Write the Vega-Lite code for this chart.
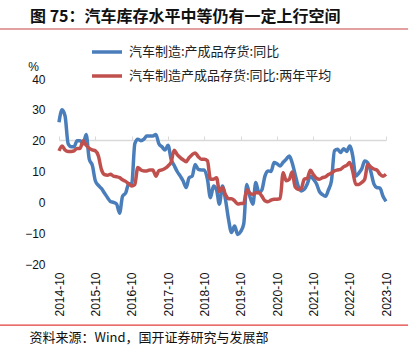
{
  "$schema": "https://vega.github.io/schema/vega-lite/v6.json",
  "autosize": {"type": "none"},
  "width": 327,
  "height": 185,
  "padding": {"left": 59, "top": 79, "right": 31, "bottom": 92},
  "background": "white",
  "config": {"view": {"stroke": null}, "font": "Liberation Sans, Noto Sans CJK SC"},
  "title": {
    "text": "图 75：汽车库存水平中等仍有一定上行空间",
    "anchor": "start", "frame": "group", "dx": -29, "offset": 3,
    "font": "Noto Sans CJK SC", "fontSize": 16, "fontWeight": "bold", "color": "#111"
  },
  "resolve": {"axis": {"x": "independent", "y": "independent"}},
  "layer": [
    {
      "data": {"values": [
        {"d":"2014-10-01","yoy":26,"avg2y":16.7},{"d":"2014-11-01","yoy":30,"avg2y":18.3},{"d":"2014-12-01","yoy":28,"avg2y":17},
        {"d":"2015-01-01","yoy":19,"avg2y":16.5},{"d":"2015-02-01","yoy":18,"avg2y":16.5},{"d":"2015-03-01","yoy":18,"avg2y":16.7},
        {"d":"2015-04-01","yoy":20,"avg2y":17.5},{"d":"2015-05-01","yoy":20,"avg2y":17.5},{"d":"2015-06-01","yoy":19,"avg2y":20},
        {"d":"2015-07-01","yoy":22,"avg2y":18.5},{"d":"2015-08-01","yoy":14,"avg2y":17.5},{"d":"2015-09-01","yoy":12,"avg2y":17},
        {"d":"2015-10-01","yoy":7,"avg2y":16.7},{"d":"2015-11-01","yoy":5.5,"avg2y":15},{"d":"2015-12-01","yoy":4.5,"avg2y":10.7},
        {"d":"2016-01-01","yoy":3,"avg2y":9},{"d":"2016-02-01","yoy":1.5,"avg2y":8.8},{"d":"2016-03-01","yoy":0.3,"avg2y":9.1},
        {"d":"2016-04-01","yoy":0,"avg2y":8.5},{"d":"2016-05-01","yoy":-0.5,"avg2y":8.3},{"d":"2016-06-01","yoy":-3.5,"avg2y":8},
        {"d":"2016-07-01","yoy":2,"avg2y":7.3},{"d":"2016-08-01","yoy":3,"avg2y":6.8},{"d":"2016-09-01","yoy":6,"avg2y":6},
        {"d":"2016-10-01","yoy":6,"avg2y":5.3},{"d":"2016-11-01","yoy":19,"avg2y":5.8},{"d":"2016-12-01","yoy":20.5,"avg2y":11.3},
        {"d":"2017-01-01","yoy":20,"avg2y":10.5},{"d":"2017-02-01","yoy":20.5,"avg2y":10.2},{"d":"2017-03-01","yoy":21.5,"avg2y":10.2},
        {"d":"2017-04-01","yoy":21.5,"avg2y":10.5},{"d":"2017-05-01","yoy":21.5,"avg2y":10.5},{"d":"2017-06-01","yoy":22,"avg2y":8.5},
        {"d":"2017-07-01","yoy":19,"avg2y":10.3},{"d":"2017-08-01","yoy":18,"avg2y":10.5},{"d":"2017-09-01","yoy":17,"avg2y":11},
        {"d":"2017-10-01","yoy":18.5,"avg2y":11.8},{"d":"2017-11-01","yoy":14,"avg2y":13},{"d":"2017-12-01","yoy":12,"avg2y":16.9},
        {"d":"2018-01-01","yoy":10,"avg2y":15.5},{"d":"2018-02-01","yoy":8.5,"avg2y":14.5},{"d":"2018-03-01","yoy":7,"avg2y":13.8},
        {"d":"2018-04-01","yoy":4.8,"avg2y":13.2},{"d":"2018-05-01","yoy":8,"avg2y":14.5},{"d":"2018-06-01","yoy":8.5,"avg2y":15.5},
        {"d":"2018-07-01","yoy":12.3,"avg2y":16},{"d":"2018-08-01","yoy":10.7,"avg2y":14.8},{"d":"2018-09-01","yoy":10.5,"avg2y":14},
        {"d":"2018-10-01","yoy":10.5,"avg2y":14},{"d":"2018-11-01","yoy":7.5,"avg2y":13.5},{"d":"2018-12-01","yoy":1.5,"avg2y":7.5},
        {"d":"2019-01-01","yoy":5.3,"avg2y":7.5},{"d":"2019-02-01","yoy":4,"avg2y":8},{"d":"2019-03-01","yoy":-0.6,"avg2y":3.5},
        {"d":"2019-04-01","yoy":5.3,"avg2y":4.8},{"d":"2019-05-01","yoy":1,"avg2y":2.5},{"d":"2019-06-01","yoy":-5.5,"avg2y":1.2},
        {"d":"2019-07-01","yoy":-9.8,"avg2y":1.2},{"d":"2019-08-01","yoy":-7.7,"avg2y":0.5},{"d":"2019-09-01","yoy":-10.4,"avg2y":-0.5},
        {"d":"2019-10-01","yoy":-9.5,"avg2y":-0.4},{"d":"2019-11-01","yoy":-7,"avg2y":-0.3},{"d":"2019-12-01","yoy":5.8,"avg2y":4},
        {"d":"2020-01-01","yoy":2,"avg2y":3},{"d":"2020-02-01","yoy":-0.6,"avg2y":2.6},{"d":"2020-03-01","yoy":6.4,"avg2y":3.1},
        {"d":"2020-04-01","yoy":3.1,"avg2y":3.1},{"d":"2020-05-01","yoy":4,"avg2y":2},{"d":"2020-06-01","yoy":8.5,"avg2y":0.5},
        {"d":"2020-07-01","yoy":10.2,"avg2y":0.2},{"d":"2020-08-01","yoy":10,"avg2y":0.7},{"d":"2020-09-01","yoy":12.9,"avg2y":1},
        {"d":"2020-10-01","yoy":12.5,"avg2y":1},{"d":"2020-11-01","yoy":11.8,"avg2y":1.2},{"d":"2020-12-01","yoy":13,"avg2y":9.6},
        {"d":"2021-01-01","yoy":14,"avg2y":7},{"d":"2021-02-01","yoy":15,"avg2y":7.5},{"d":"2021-03-01","yoy":12.9,"avg2y":9.8},
        {"d":"2021-04-01","yoy":9,"avg2y":5},{"d":"2021-05-01","yoy":5.3,"avg2y":4.2},{"d":"2021-06-01","yoy":3.7,"avg2y":4.5},
        {"d":"2021-07-01","yoy":4.2,"avg2y":7.5},{"d":"2021-08-01","yoy":6,"avg2y":7.8},{"d":"2021-09-01","yoy":8.5,"avg2y":10.4},
        {"d":"2021-10-01","yoy":7.5,"avg2y":9},{"d":"2021-11-01","yoy":6,"avg2y":7.8},{"d":"2021-12-01","yoy":3.5,"avg2y":7.5},
        {"d":"2022-01-01","yoy":2.5,"avg2y":8},{"d":"2022-02-01","yoy":2,"avg2y":8.3},{"d":"2022-03-01","yoy":4,"avg2y":9},
        {"d":"2022-04-01","yoy":7,"avg2y":9.5},{"d":"2022-05-01","yoy":16.7,"avg2y":10.2},{"d":"2022-06-01","yoy":17.2,"avg2y":10.5},
        {"d":"2022-07-01","yoy":16.2,"avg2y":10.7},{"d":"2022-08-01","yoy":17.4,"avg2y":11.5},{"d":"2022-09-01","yoy":16.5,"avg2y":12},
        {"d":"2022-10-01","yoy":18.3,"avg2y":12.9},{"d":"2022-11-01","yoy":15,"avg2y":10},{"d":"2022-12-01","yoy":8.5,"avg2y":5.8},
        {"d":"2023-01-01","yoy":9.5,"avg2y":5.8},{"d":"2023-02-01","yoy":11,"avg2y":6.5},{"d":"2023-03-01","yoy":13.4,"avg2y":7.5},
        {"d":"2023-04-01","yoy":12.8,"avg2y":12.3},{"d":"2023-05-01","yoy":10,"avg2y":11.5},{"d":"2023-06-01","yoy":6,"avg2y":10.8},
        {"d":"2023-07-01","yoy":4.8,"avg2y":10.5},{"d":"2023-08-01","yoy":4.6,"avg2y":9.1},{"d":"2023-09-01","yoy":2,"avg2y":8.5},
        {"d":"2023-10-01","yoy":0.3,"avg2y":9.1}
      ]},
      "transform": [{"fold": ["yoy", "avg2y"], "as": ["series", "value"]}],
      "mark": {"type": "line", "strokeWidth": 3.5, "interpolate": "monotone"},
      "encoding": {
        "x": {
          "field": "d", "type": "temporal",
          "scale": {"type": "utc", "domain": [{"year": 2014, "month": 10, "date": 1, "utc": true}, {"year": 2023, "month": 10, "date": 1, "utc": true}]},
          "axis": {
            "values": [
              {"year": 2014, "month": 10, "date": 1, "utc": true}, {"year": 2015, "month": 10, "date": 1, "utc": true},
              {"year": 2016, "month": 10, "date": 1, "utc": true}, {"year": 2017, "month": 10, "date": 1, "utc": true},
              {"year": 2018, "month": 10, "date": 1, "utc": true}, {"year": 2019, "month": 10, "date": 1, "utc": true},
              {"year": 2020, "month": 10, "date": 1, "utc": true}, {"year": 2021, "month": 10, "date": 1, "utc": true},
              {"year": 2022, "month": 10, "date": 1, "utc": true}, {"year": 2023, "month": 10, "date": 1, "utc": true}
            ],
            "labelExpr": "utcFormat(datum.value, '%Y-%m')",
            "labelAngle": -90, "labelFontSize": 12, "labelColor": "#111", "labelPadding": 8,
            "labelFont": "Liberation Sans",
            "domain": false, "ticks": false, "grid": false, "labelFlush": false, "labelOverlap": false,
            "title": "资料来源：Wind，国开证券研究与发展部",
            "titleFont": "Noto Sans CJK SC", "titleFontSize": 13, "titleFontWeight": "normal", "titleColor": "#111",
            "titleX": -30, "titleY": 73, "titleAlign": "left", "titleBaseline": "middle"
          }
        },
        "y": {
          "field": "value", "type": "quantitative",
          "scale": {"domain": [-20, 40], "nice": false, "zero": false},
          "axis": {
            "values": [-20, -10, 0, 10, 20, 30, 40],
            "domain": false, "ticks": false, "grid": false,
            "labelFontSize": 12, "labelColor": "#111", "labelPadding": 14, "labelFont": "Liberation Sans",
            "title": "%", "titleAngle": 0, "titleX": -26, "titleY": -13,
            "titleAlign": "center", "titleBaseline": "middle",
            "titleFontSize": 12, "titleFontWeight": "normal", "titleColor": "#111", "titleFont": "Liberation Sans"
          }
        },
        "color": {
          "field": "series", "type": "nominal",
          "scale": {"domain": ["yoy", "avg2y"], "range": ["#4A7EBB", "#C0504D"]},
          "legend": {
            "title": null, "orient": "none", "legendX": 31, "legendY": -44,
            "symbolType": "stroke", "symbolSize": 900, "symbolStrokeWidth": 3.5,
            "labelFontSize": 13, "labelColor": "#222", "labelFont": "Noto Sans CJK SC", "labelLimit": 400,
            "rowPadding": -7, "labelOffset": 5,
            "labelExpr": "datum.value == 'yoy' ? '汽车制造:产成品存货:同比' : '汽车制造产成品存货:同比:两年平均'"
          }
        }
      }
    },
    {
      "data": {"values": [{"a": "2013-02-15", "b": "2024-05-10", "y": 56.2}]},
      "mark": {"type": "rule", "color": "#D98080", "strokeWidth": 1.5},
      "encoding": {
        "x": {
          "field": "a", "type": "temporal",
          "axis": {
            "values": [
              {"year": 2014, "month": 10, "date": 1, "utc": true}, {"year": 2015, "month": 10, "date": 1, "utc": true},
              {"year": 2016, "month": 10, "date": 1, "utc": true}, {"year": 2017, "month": 10, "date": 1, "utc": true},
              {"year": 2018, "month": 10, "date": 1, "utc": true}, {"year": 2019, "month": 10, "date": 1, "utc": true},
              {"year": 2020, "month": 10, "date": 1, "utc": true}, {"year": 2021, "month": 10, "date": 1, "utc": true},
              {"year": 2022, "month": 10, "date": 1, "utc": true}, {"year": 2023, "month": 10, "date": 1, "utc": true}
            ],
            "offset": -61, "labels": false, "title": null, "grid": false,
            "domain": true, "domainColor": "#D9D9D9", "domainWidth": 1.5,
            "ticks": true, "tickColor": "#D9D9D9", "tickSize": 4, "tickWidth": 1
          }
        },
        "x2": {"field": "b"},
        "y": {"field": "y", "type": "quantitative", "axis": null}
      }
    },
    {
      "data": {"values": [{"a": "2013-02-15", "b": "2024-05-10", "y": -39.8}]},
      "mark": {"type": "rule", "color": "#E03C3C", "strokeWidth": 1.2},
      "encoding": {
        "x": {"field": "a", "type": "temporal", "axis": null},
        "x2": {"field": "b"},
        "y": {"field": "y", "type": "quantitative", "axis": null}
      }
    }
  ]
}
